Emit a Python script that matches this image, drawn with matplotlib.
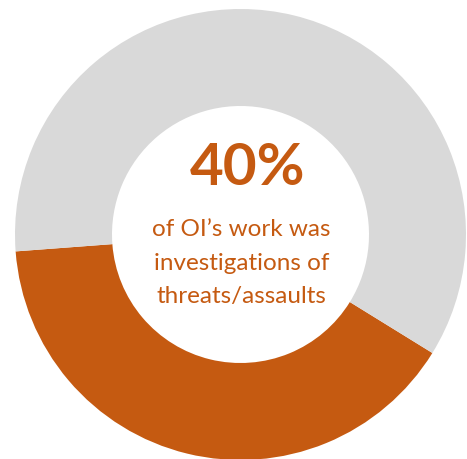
import matplotlib
matplotlib.use("Agg")
import matplotlib.pyplot as plt

labels = ["Investigations of threats/assaults", "Other work"]
values = [40, 60]
colors = ["#C55A11", "#D9D9D9"]
headline = "40%"
caption = ["of OI\u2019s work was", "investigations of", "threats/assaults"]

W, H = 467, 460
fig = plt.figure(figsize=(W / 100, H / 100), dpi=100)
ax = fig.add_axes([0, 0, 1, 1])
cx, cy, R = 240.5, H - 235.5, 225.5
ax.pie(values, colors=colors, startangle=184.3, counterclock=True,
       center=(cx, cy), radius=R,
       wedgeprops=dict(width=97, linewidth=0))
ax.set_xlim(0, W)
ax.set_ylim(0, H)
ax.set_aspect("equal")
ax.axis("off")

orange = colors[0]
ax.text(248, H - 185, headline, ha="center", va="baseline", fontsize=42,
        fontweight="bold", color=orange, family="Lato")
for i, line in enumerate(caption):
    ax.text(241.5, H - (236 + 33.5 * i), line, ha="center", va="baseline",
            fontsize=17.5, color=orange, family="Lato")

fig.savefig("out.png", dpi=100)
